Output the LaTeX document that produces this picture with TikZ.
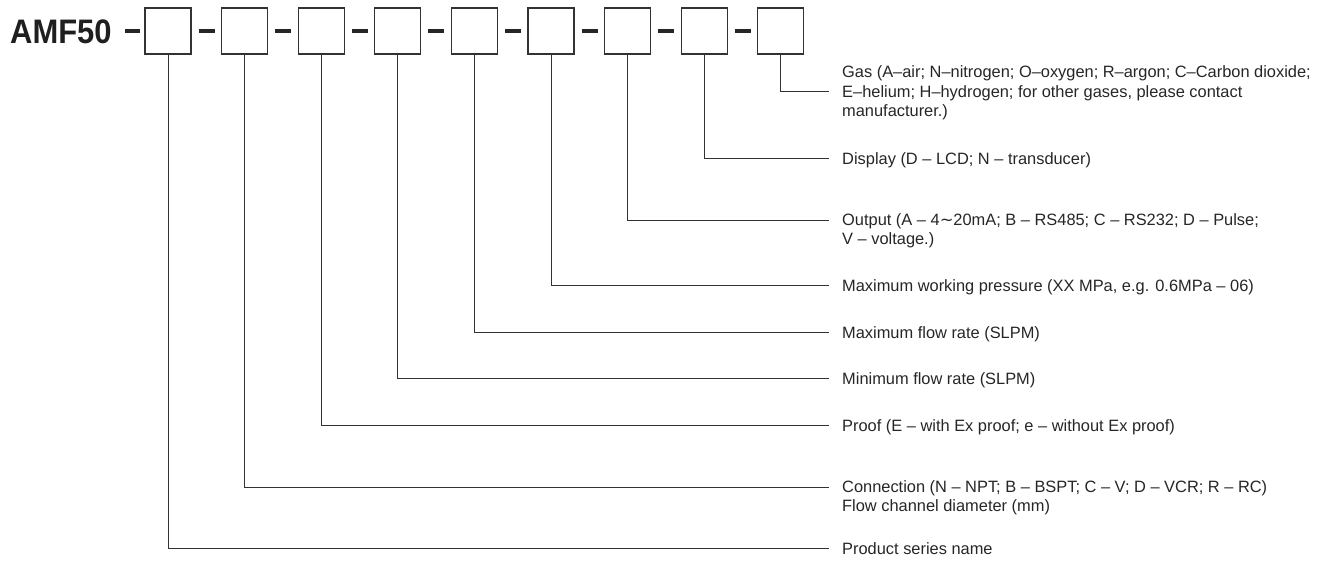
\documentclass[tikz,border=0pt]{standalone}
\usepackage{fontspec}
\usepackage{graphicx}
\usetikzlibrary{calc}
\setmainfont{Liberation Sans}
\newfontfamily\symfont{DejaVu Sans}
\begin{document}
\begin{tikzpicture}[x=1pt,y=-1pt,
  codebox/.style={draw=black!80,line width=1.3pt,minimum width=46pt,minimum height=46pt,inner sep=0pt},
  sep/.style={draw=black!85,line width=3.5pt},
  conn/.style={draw=black!80,line width=1pt},
  lbl/.style={anchor=base west,inner sep=0pt,align=left,text=black!85,font=\fontsize{16.4}{19.5}\selectfont}]
\useasboundingbox (0,0) rectangle (1342,560);
\node[anchor=base west,inner sep=0pt,text=black!88,font=\fontsize{34}{36}\selectfont\bfseries] (title) at (10,43) {\scalebox{0.91}[1]{AMF50}};
\foreach \i in {1,...,9}{
  \node[codebox] (b\i) at ({168+76.6*(\i-1)},31) {};
}
\draw[sep] (125,31) -- (140,31);
\foreach \i in {1,...,8}{
  \draw[sep] ($(b\i.east)+(7,0)$) -- ++(16,0);
}
% end points
\coordinate (e9) at (829,91);
\coordinate (e8) at (829,158);
\coordinate (e7) at (829,220);
\coordinate (e6) at (829,285);
\coordinate (e5) at (829,332);
\coordinate (e4) at (829,378);
\coordinate (e3) at (829,425);
\coordinate (e2) at (829,487);
\coordinate (e1) at (829,548);
\foreach \i in {1,...,9}{
  \draw[conn] (b\i.south) |- (e\i);
}
\node[lbl] (l9) at (842,116.5) {Gas (A{\char"2013}air; N{\char"2013}nitrogen; O{\char"2013}oxygen; R{\char"2013}argon; C{\char"2013}Carbon dioxide;\\E{\char"2013}helium; H{\char"2013}hydrogen; for other gases, please contact\\manufacturer.)};
\node[lbl] (l8) at (842,164) {Display (D {\char"2013} LCD; N {\char"2013} transducer)};
\node[lbl] (l7) at (842,244.5) {Output (A {\char"2013} 4{\symfont\char"223C}20mA; B {\char"2013} RS485; C {\char"2013} RS232; D {\char"2013} Pulse;\\V {\char"2013} voltage.)};
\node[lbl] (l6) at (842,291) {Maximum working pressure (XX MPa, e.g. 0.6MPa {\char"2013} 06)};
\node[lbl] (l5) at (842,338) {Maximum flow rate (SLPM)};
\node[lbl] (l4) at (842,384) {Minimum flow rate (SLPM)};
\node[lbl] (l3) at (842,431) {Proof (E {\char"2013} with Ex proof; e {\char"2013} without Ex proof)};
\node[lbl] (l2) at (842,511.5) {Connection (N {\char"2013} NPT; B {\char"2013} BSPT; C {\char"2013} V; D {\char"2013} VCR; R {\char"2013} RC)\\Flow channel diameter (mm)};
\node[lbl] (l1) at (842,554) {Product series name};
\end{tikzpicture}
\end{document}
